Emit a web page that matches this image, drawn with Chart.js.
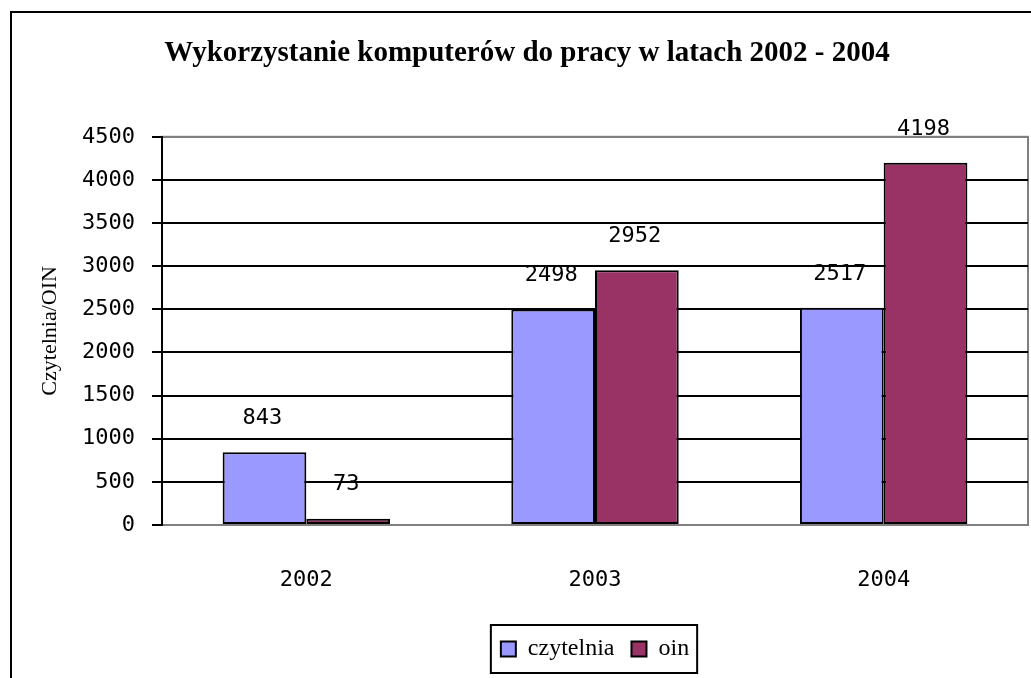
<!DOCTYPE html>
<html>
<head>
<meta charset="utf-8">
<script src="https://cdn.jsdelivr.net/npm/chart.js@4"></script>
<style>
html,body{margin:0;padding:0;background:#fff}
</style>
</head>
<body>
<canvas id="c" width="1031" height="678"></canvas>
<script>
// dane
const years = ['2002', '2003', '2004']
const czytelnia = [843, 2498, 2517]
const oin = [73, 2952, 4198]
const yMax = 4500, yStep = 500

const numFont = {family: 'DejaVu Sans Mono', size: 22}
const serif = 'Liberation Serif'

// ramka całego wykresu + tło
const frame = {
  id: 'frame',
  beforeDraw(chart) {
    const c = chart.ctx
    c.save()
    c.fillStyle = '#fff'; c.fillRect(0, 0, chart.width, chart.height)
    c.strokeStyle = '#000'; c.lineWidth = 2
    c.strokeRect(11, 12, chart.width + 20, chart.height + 20)
    const a = chart.chartArea
    c.strokeStyle = '#808080'
    c.strokeRect(a.left, a.top, a.right - a.left, a.bottom - a.top)
    c.restore()
  },
  afterDraw(chart) {
    // ramka legendy
    const boxes = chart.legend.legendHitBoxes
    if (!boxes || !boxes.length) return
    const l = Math.min(...boxes.map(b => b.left)) - 10
    const r = Math.max(...boxes.map(b => b.left + b.width)) + 8
    const t = boxes[0].top - 12, b = boxes[0].top + boxes[0].height + 12
    const c = chart.ctx
    c.save(); c.strokeStyle = '#000'; c.lineWidth = 2
    c.strokeRect(l, t, r - l, b - t); c.restore()
  }
}

// wartości nad słupkami
const valueLabels = {
  id: 'valueLabels',
  afterDatasetsDraw(chart) {
    const c = chart.ctx
    c.save()
    c.font = `${numFont.size}px "${numFont.family}"`
    c.fillStyle = '#000'; c.textAlign = 'center'; c.textBaseline = 'middle'
    chart.data.datasets.forEach((ds, i) => {
      chart.getDatasetMeta(i).data.forEach((bar, j) => {
        c.fillText(String(ds.data[j]), bar.x - 2, bar.y - 34)
      })
    })
    c.restore()
  }
}

new Chart(document.getElementById('c'), {
  type: 'bar',
  data: {
    labels: years,
    datasets: [
      {label: 'czytelnia', data: czytelnia, backgroundColor: '#9999ff', borderColor: '#000', borderWidth: 2, borderSkipped: false},
      {label: 'oin', data: oin, backgroundColor: '#993366', borderColor: '#000', borderWidth: 2, borderSkipped: false}
    ]
  },
  options: {
    responsive: false,
    animation: false,
    devicePixelRatio: 1,
    layout: {padding: {left: 26, right: 3, top: 0, bottom: 7}},
    datasets: {bar: {categoryPercentage: 0.58, barPercentage: 1}},
    plugins: {
      title: {
        display: true,
        text: 'Wykorzystanie komputerów do pracy w latach 2002 - 2004',
        color: '#000',
        font: {family: serif, size: 29, weight: 'bold'},
        padding: {top: 36, bottom: 66}
      },
      legend: {
        position: 'bottom',
        fullSize: false,
        labels: {
          color: '#000',
          font: {family: serif, size: 24},
          boxWidth: 15, boxHeight: 15, padding: 17,
          generateLabels(chart) {
            return chart.data.datasets.map((ds, i) => ({
              text: ds.label, fillStyle: ds.backgroundColor, strokeStyle: '#000',
              lineWidth: 2, datasetIndex: i, fontColor: '#000'
            }))
          }
        }
      },
      tooltip: {enabled: false}
    },
    scales: {
      x: {
        grid: {display: false, drawTicks: false},
        border: {color: '#808080', width: 2},
        ticks: {color: '#000', font: numFont, padding: 42},
        afterFit(s) { s.height = 95 }
      },
      y: {
        min: 0, max: yMax,
        ticks: {stepSize: yStep, color: '#000', font: numFont, padding: 17, callback: v => String(v)},
        grid: {
          color: ctx => (ctx.tick && (ctx.tick.value === 0 || ctx.tick.value === yMax)) ? '#808080' : '#000',
          tickColor: '#000', lineWidth: 2, tickLength: 10
        },
        border: {color: '#000', width: 2},
        title: {display: true, text: 'Czytelnia/OIN', color: '#000', font: {family: serif, size: 22}, padding: {top: 11, bottom: 0}},
        afterFit(s) { s.width = 136 }
      }
    }
  },
  plugins: [frame, valueLabels]
})
</script>
</body>
</html>
